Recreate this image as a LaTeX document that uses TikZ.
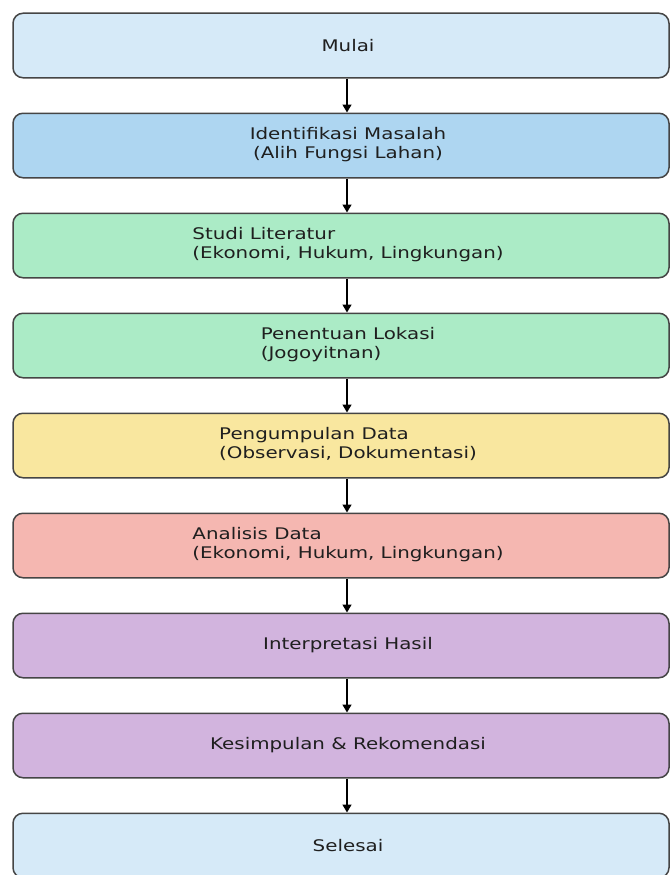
\documentclass[tikz,border=0pt]{standalone}
\usepackage{fontspec}
\setmainfont{DejaVu Sans}[FakeStretch=1.24]
\usetikzlibrary{positioning,arrows.meta}

\definecolor{startcol}{HTML}{D6EAF8}
\definecolor{identcol}{HTML}{AED6F1}
\definecolor{greencol}{HTML}{ABEBC6}
\definecolor{yellowcol}{HTML}{F9E79F}
\definecolor{redcol}{HTML}{F5B7B1}
\definecolor{purplecol}{HTML}{D2B4DE}
\definecolor{edgecol}{HTML}{454545}

\newcommand{\lefttwo}[2]{\begin{tabular}{@{}l@{}}#1\\#2\end{tabular}}
\newcommand{\centertwo}[2]{\begin{tabular}{@{}c@{}}#1\\#2\end{tabular}}

\begin{document}
\begin{tikzpicture}[x=1pt,y=-1pt,node distance=34pt,
    stepbox/.style={draw=edgecol,line width=1.5pt,rounded corners=10pt,
        minimum width=656pt,minimum height=64.5pt,inner sep=0pt,
        text=black!88,font=\fontsize{16}{19}\selectfont,
        execute at begin node={\hspace*{14pt}}},
    flow/.style={-{Triangle[length=8pt,width=9pt]},line width=1.4pt,black}]
    \useasboundingbox (0,0) rectangle (671,875);

    \node[stepbox,fill=startcol] (mulai) at (341,45.5) {Mulai};
    \node[stepbox,fill=identcol] (identifikasi) [below=of mulai]
        {\centertwo{Identifikasi Masalah}{(Alih Fungsi Lahan)}};
    \node[stepbox,fill=greencol] (studi) [below=of identifikasi]
        {\lefttwo{Studi Literatur}{(Ekonomi, Hukum, Lingkungan)}};
    \node[stepbox,fill=greencol] (lokasi) [below=of studi]
        {\lefttwo{Penentuan Lokasi}{(Jogoyitnan)}};
    \node[stepbox,fill=yellowcol] (pengumpulan) [below=of lokasi]
        {\lefttwo{Pengumpulan Data}{(Observasi, Dokumentasi)}};
    \node[stepbox,fill=redcol] (analisis) [below=of pengumpulan]
        {\lefttwo{Analisis Data}{(Ekonomi, Hukum, Lingkungan)}};
    \node[stepbox,fill=purplecol] (interpretasi) [below=of analisis] {Interpretasi Hasil};
    \node[stepbox,fill=purplecol] (kesimpulan) [below=of interpretasi] {Kesimpulan \& Rekomendasi};
    \node[stepbox,fill=startcol] (selesai) [below=of kesimpulan] {Selesai};

    \foreach \a/\b in {mulai/identifikasi,identifikasi/studi,studi/lokasi,
        lokasi/pengumpulan,pengumpulan/analisis,analisis/interpretasi,
        interpretasi/kesimpulan,kesimpulan/selesai}
        \draw[flow] ([xshift=6pt]\a.south) -- ([xshift=6pt]\b.north);
\end{tikzpicture}
\end{document}
